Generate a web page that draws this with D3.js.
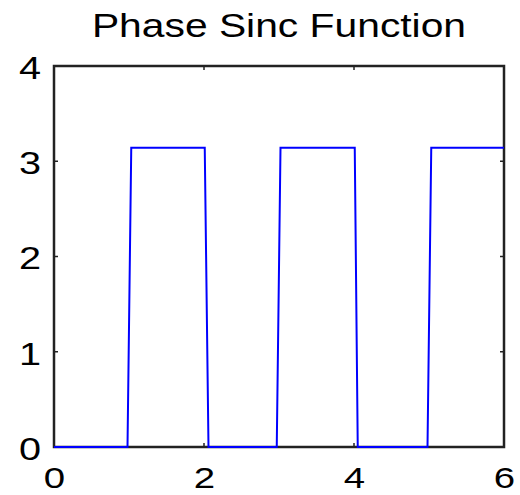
<!DOCTYPE html>
<html>
<head>
<meta charset="utf-8">
<script src="https://cdn.jsdelivr.net/npm/d3@7"></script>
<style>
  body { margin: 0; background: #fff; }
  svg text { font-family: "Liberation Sans", Arial, sans-serif; fill: #000; }
</style>
</head>
<body>
<div class="vis-phase"></div>
<script>
const xValues = [0, 0.98, 1.03, 2.01, 2.06, 2.97, 3.02, 4.01, 4.05, 4.98, 5.03, 6];
const phaseValues = [0, 0, 3.1416, 3.1416, 0, 0, 3.1416, 3.1416, 0, 0, 3.1416, 3.1416];
const xTicks = [0, 2, 4, 6];
const yTicks = [0, 1, 2, 3, 4];
const title = "Phase Sinc Function";

const draw = () => {
    let data = xValues.map((x, i) => ({x: x, y: phaseValues[i]}));

    let margin = {top: 66, right: 16, bottom: 48, left: 54};
    const totalW = 520, totalH = 495;
    const width = totalW - margin.left - margin.right;
    const height = totalH - margin.top - margin.bottom;
    const tickStretch = 1.28;   // the labels are drawn wide in the original
    const titleStretch = 1.2;

    let svg = d3.select('.vis-phase')
                .append('svg')
                .attr('width', totalW)
                .attr('height', totalH)
                .append("g")
                .attr("transform", "translate(" + margin.left + "," + margin.top + ")");

    let xScale = d3.scaleLinear().domain([0, 6]).range([0, width]);
    let yScale = d3.scaleLinear().domain([0, 4]).range([height, 0]);

    // Bottom axis labels
    let xAxis = svg.append("g")
        .attr("transform", "translate(0," + height + ")")
        .call(d3.axisBottom(xScale).tickValues(xTicks).tickSize(0).tickPadding(0).tickFormat(d3.format("d")));
    xAxis.select(".domain").remove();
    xAxis.selectAll("text")
        .attr("y", 41)
        .attr("dy", null)
        .style("font-size", "30px")
        .attr("transform", "scale(" + tickStretch + ",1)");

    // Left axis labels
    let yAxis = svg.append("g")
        .call(d3.axisLeft(yScale).tickValues(yTicks).tickSize(0).tickPadding(0).tickFormat(d3.format("d")));
    yAxis.select(".domain").remove();
    yAxis.selectAll("text")
        .attr("x", -13 / tickStretch)
        .attr("dy", "0.40em")
        .style("font-size", "31px")
        .attr("transform", "scale(" + tickStretch + ",1)");

    // small inward ticks on all four sides
    const tickLen = 4;
    let ticks = svg.append("g").attr("stroke", "#222").attr("stroke-width", 1.5);
    xTicks.forEach(function(t){
        ticks.append("line").attr("x1", xScale(t)).attr("x2", xScale(t))
            .attr("y1", height).attr("y2", height - tickLen);
        ticks.append("line").attr("x1", xScale(t)).attr("x2", xScale(t))
            .attr("y1", 0).attr("y2", tickLen);
    });
    yTicks.forEach(function(t){
        ticks.append("line").attr("x1", 0).attr("x2", tickLen)
            .attr("y1", yScale(t)).attr("y2", yScale(t));
        ticks.append("line").attr("x1", width).attr("x2", width - tickLen)
            .attr("y1", yScale(t)).attr("y2", yScale(t));
    });

    // Box
    svg.append("rect")
        .attr("x", 0).attr("y", 0)
        .attr("width", width).attr("height", height)
        .attr("fill", "none")
        .attr("stroke", "#222")
        .attr("stroke-width", 2.5);

    // the phase line
    svg.append("path")
        .datum(data)
        .attr("fill", "none")
        .attr("stroke", "#0000ff")
        .attr("stroke-width", 2)
        .attr("d", d3.line()
            .x(function(d){ return xScale(d.x); })
            .y(function(d){ return yScale(d.y); }));

    // Title
    svg.append("text")
        .attr("x", (width / 2) / titleStretch)
        .attr("y", -29)
        .attr("text-anchor", "middle")
        .style("font-size", "34px")
        .attr("transform", "scale(" + titleStretch + ",1)")
        .text(title);
}

draw();
</script>
</body>
</html>
